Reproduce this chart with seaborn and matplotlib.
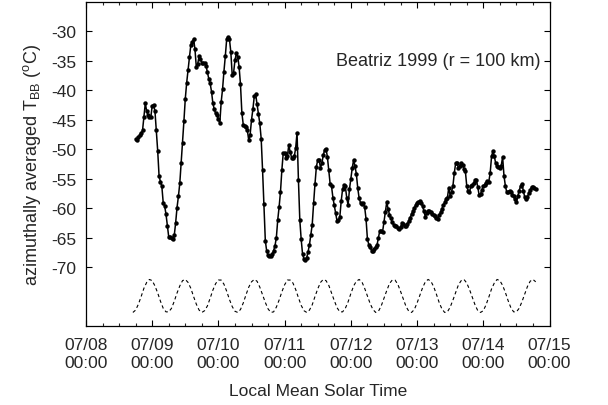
import numpy as np
import pandas as pd
import matplotlib
matplotlib.use("Agg")
import matplotlib.pyplot as plt
import matplotlib.dates as mdates
import seaborn as sns

# Azimuthally averaged T_BB, half-hourly, one list per day
tbb_0708 = [-48.2, -48.5, -48.0, -47.6, -47.3, -46.8, -44.5, -42.2, -43.5, -44.2, -44.5, -44.6]  # from 18:00
tbb_0709 = [-42.6, -42.5, -43.5, -46.8, -50.3, -54.6, -55.5, -56.3, -59.1, -59.6, -61.0, -63.0,
            -64.9, -64.9, -65.1, -65.3, -64.6, -62.5, -59.9, -58.0, -55.8, -52.3, -49.0, -45.2,
            -41.4, -38.7, -36.5, -34.4, -32.3, -31.8, -31.3, -33.0, -36.1, -35.5, -34.2, -34.6,
            -35.4, -35.4, -35.4, -35.8, -36.9, -38.0, -38.8, -40.2, -42.2, -43.2, -43.9, -44.2]
tbb_0710 = [-44.9, -45.6, -42.0, -39.8, -36.8, -34.2, -31.3, -30.9, -31.3, -33.5, -37.4, -37.0,
            -34.9, -33.7, -34.3, -36.0, -39.0, -43.8, -45.8, -46.0, -46.3, -46.8, -48.5, -47.5,
            -45.0, -43.2, -41.0, -40.7, -42.3, -44.0, -45.6, -48.2, -53.5, -59.3, -65.5, -67.3,
            -67.9, -68.1, -68.1, -67.8, -67.2, -66.4, -65.0, -62.0, -59.8, -57.2, -53.5, -50.6]
tbb_0711 = [-50.6, -51.4, -51.2, -49.3, -50.4, -51.4, -51.5, -51.2, -49.8, -47.2, -55.2, -62.0,
            -65.3, -67.8, -68.6, -68.8, -68.4, -67.4, -66.2, -64.5, -62.8, -59.2, -55.9, -53.0,
            -51.8, -51.9, -53.1, -52.4, -51.0, -50.1, -49.9, -51.3, -53.6, -55.9, -56.3, -58.2,
            -59.5, -60.8, -62.2, -62.0, -61.5, -58.8, -56.8, -56.1, -56.3, -58.2, -59.5, -56.8]
tbb_0712 = [-55.0, -53.2, -51.8, -52.9, -54.2, -56.6, -58.3, -59.1, -59.3, -59.2, -59.8, -61.8,
            -65.2, -66.2, -66.6, -67.2, -67.3, -66.9, -66.6, -66.2, -65.0, -63.8, -63.9, -64.0,
            -62.3, -60.6, -59.0, -60.1, -61.1, -61.7, -62.4, -62.8, -63.1, -63.1, -63.3, -63.6,
            -63.2, -62.6, -62.7, -63.0, -63.0, -62.7, -62.1, -61.6, -61.0, -60.5, -60.0, -59.4]
tbb_0713 = [-59.1, -59.0, -58.7, -59.1, -59.7, -60.5, -61.5, -60.8, -60.4, -60.4, -60.7, -61.0,
            -61.2, -61.4, -61.6, -61.8, -61.2, -60.7, -60.1, -59.5, -59.0, -58.5, -58.2, -56.5,
            -57.9, -57.2, -56.2, -54.0, -52.3, -52.4, -53.2, -52.8, -52.3, -52.6, -53.3, -53.7,
            -56.2, -57.1, -57.3, -56.2, -56.0, -55.8, -55.3, -55.2, -56.4, -57.8, -57.6, -56.9]
tbb_0714 = [-56.3, -56.0, -55.7, -55.4, -55.5, -54.0, -51.2, -50.3, -51.2, -52.4, -52.8, -53.0,
            -53.2, -52.8, -51.3, -54.5, -56.2, -57.3, -57.3, -57.0, -57.3, -57.7, -58.0, -58.5,
            -59.0, -58.0, -57.0, -56.3, -55.9, -57.0, -58.1, -58.4, -58.1, -57.4, -56.9, -56.4,
            -56.4, -56.6, -56.7]

# Dashed reference oscillation, hourly
ref_0708 = [-77.7, -77.3, -76.3, -75.0, -73.6, -72.6, -72.1]  # from 17:00
ref_0709 = [-72.3, -73.2, -74.4, -75.8, -77.0, -77.6, -77.6, -77.0, -75.8, -74.4, -73.2, -72.3,
            -72.1, -72.6, -73.6, -75.0, -76.3, -77.3, -77.7, -77.4, -76.6, -75.3, -73.9, -72.8]
ref_0710 = [-72.2, -72.2, -72.9, -74.1, -75.5, -76.7, -77.5, -77.7, -77.2, -76.1, -74.7, -73.4,
            -72.5, -72.1, -72.4, -73.4, -74.7, -76.0, -77.1, -77.7, -77.6, -76.8, -75.6, -74.2]
ref_0711 = [-73.0, -72.2, -72.2, -72.7, -73.8, -75.2, -76.5, -77.4, -77.7, -77.3, -76.4, -75.0,
            -73.7, -72.6, -72.1, -72.3, -73.1, -74.4, -75.7, -76.9, -77.6, -77.6, -77.0, -75.9]
ref_0712 = [-74.5, -73.2, -72.4, -72.1, -72.5, -73.6, -74.9, -76.2, -77.2, -77.7, -77.5, -76.6,
            -75.3, -74.0, -72.8, -72.2, -72.2, -72.9, -74.1, -75.4, -76.7, -77.5, -77.7, -77.2]
ref_0713 = [-76.1, -74.8, -73.5, -72.5, -72.1, -72.4, -73.3, -74.6, -76.0, -77.1, -77.7, -77.6,
            -76.8, -75.6, -74.3, -73.0, -72.3, -72.1, -72.7, -73.8, -75.1, -76.4, -77.4, -77.7]
ref_0714 = [-77.4, -76.4, -75.1, -73.7, -72.7, -72.1, -72.3, -73.1, -74.3, -75.7, -76.9, -77.6,
            -77.6, -77.0, -75.9, -74.6, -73.3, -72.4, -72.1, -72.5]

tbb = tbb_0708 + tbb_0709 + tbb_0710 + tbb_0711 + tbb_0712 + tbb_0713 + tbb_0714
ref = ref_0708 + ref_0709 + ref_0710 + ref_0711 + ref_0712 + ref_0713 + ref_0714

df = pd.DataFrame({"time": pd.date_range("1999-07-08 18:00", periods=len(tbb), freq="30min"),
                   "tbb": tbb})
df_ref = pd.DataFrame({"time": pd.date_range("1999-07-08 17:00", periods=len(ref), freq="1h"),
                       "tbb": ref})

sns.set_style("ticks")
plt.rcParams["font.family"] = ["Liberation Sans", "DejaVu Sans"]
plt.rcParams["mathtext.fontset"] = "custom"
plt.rcParams["mathtext.rm"] = "Liberation Sans"
plt.rcParams["mathtext.it"] = "Liberation Sans"
plt.rcParams["axes.unicode_minus"] = False

FS = 12.5

fig = plt.figure(figsize=(6.08, 4.06), dpi=100)
ax = fig.add_axes([0.1414, 0.1946, 0.7624, 0.798])

sns.lineplot(data=df, x="time", y="tbb", ax=ax, color="black", linewidth=1.1,
             marker="o", markersize=3.2, markeredgewidth=0, estimator=None, sort=False)
sns.lineplot(data=df_ref, x="time", y="tbb", ax=ax, color="black", linewidth=0.8,
             linestyle=(0, (3, 2.5)), estimator=None, sort=False)

ax.set_xlim(pd.Timestamp("1999-07-08"), pd.Timestamp("1999-07-15"))
ax.set_ylim(-80, -25)
ax.set_yticks([-30, -35, -40, -45, -50, -55, -60, -65, -70])
ax.xaxis.set_major_locator(mdates.DayLocator())
ax.xaxis.set_minor_locator(mdates.HourLocator(byhour=[6, 12, 18]))
ax.xaxis.set_major_formatter(mdates.DateFormatter("%m/%d\n%H:%M"))

ax.tick_params(axis="both", which="major", direction="in", length=4, width=0.8,
               labelsize=FS, top=True, right=True, color="black")
ax.tick_params(axis="x", which="minor", direction="in", length=2, width=0.8, top=True)
ax.tick_params(axis="x", which="major", pad=8)
ax.tick_params(axis="y", which="major", pad=7)
for s in ax.spines.values():
    s.set_linewidth(0.9)
    s.set_color("black")

ax.set_xlabel("Local Mean Solar Time", fontsize=FS, labelpad=10)
ax.set_ylabel(r"azimuthally averaged T$_{\rm BB}$ ($^{\rm o}$C)", fontsize=13, labelpad=6)
ax.text(0.98, 0.818, "Beatriz 1999 (r = 100 km)", transform=ax.transAxes,
        ha="right", va="center", fontsize=13)

fig.savefig("out.png", dpi=100)
